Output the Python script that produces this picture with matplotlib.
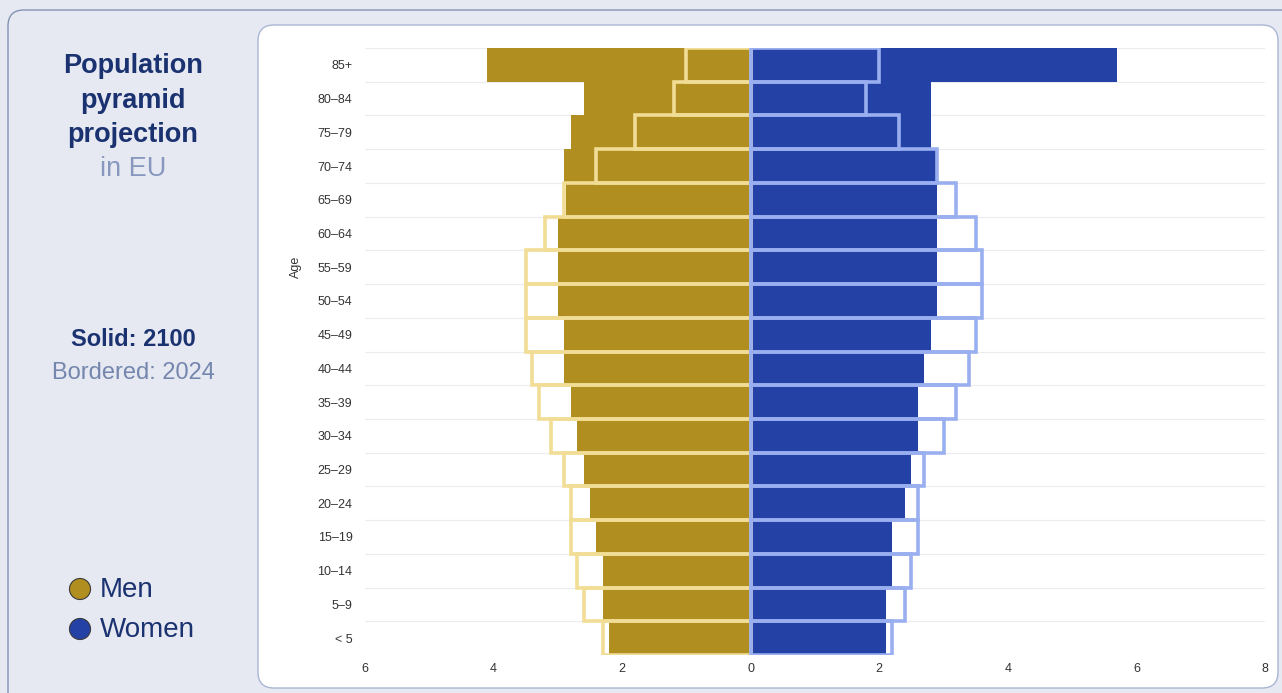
"""
Population pyramid: EU projection for 2100 (solid) against 2024 (bordered).
"""

import os
os.environ['MPLBACKEND'] = 'Agg'

import numpy as np
import matplotlib.pyplot as plt
from matplotlib.patches import FancyBboxPatch

# Age groups, youngest first (drawn bottom to top)
age_groups = ["< 5", "5–9", "10–14", "15–19", "20–24", "25–29", "30–34",
              "35–39", "40–44", "45–49", "50–54", "55–59", "60–64",
              "65–69", "70–74", "75–79", "80–84", "85+"]

# Share of total population (%), same order as age_groups
men_2100 = [2.2, 2.3, 2.3, 2.4, 2.5, 2.6, 2.7, 2.8, 2.9, 2.9, 3.0, 3.0, 3.0,
            2.88, 2.9, 2.8, 2.6, 4.1]
men_2024 = [2.3, 2.6, 2.7, 2.8, 2.8, 2.9, 3.1, 3.3, 3.4, 3.5, 3.5, 3.5, 3.2,
            2.9, 2.4, 1.8, 1.2, 1.0]
women_2100 = [2.1, 2.1, 2.2, 2.2, 2.4, 2.5, 2.6, 2.6, 2.7, 2.8, 2.9, 2.9, 2.9,
              2.9, 2.88, 2.8, 2.8, 5.7]
women_2024 = [2.2, 2.4, 2.5, 2.6, 2.6, 2.7, 3.0, 3.2, 3.4, 3.5, 3.6, 3.6, 3.5,
              3.2, 2.9, 2.3, 1.8, 2.0]

x_ticks = [-6, -4, -2, 0, 2, 4, 6, 8]

MEN = "#b08f20"
MEN_EDGE = "#f1dd95"
WOMEN = "#2442a6"
WOMEN_EDGE = "#9aaff0"
NAVY = "#1b3270"
MUTED = "#7486ad"
W, H = 1282, 693

fig = plt.figure(figsize=(W / 100, H / 100), dpi=100)
fig.patch.set_facecolor("#e6e9f1")

# Background panels, drawn in pixel units
bg = fig.add_axes([0, 0, 1, 1])
bg.set_xlim(0, W)
bg.set_ylim(H, 0)
bg.axis("off")
bg.add_patch(FancyBboxPatch((8, 10), W + 40, H + 40,
                            boxstyle="round,pad=0,rounding_size=16",
                            facecolor="#e6e9f2", edgecolor="#8493b5", linewidth=1.0))
bg.add_patch(FancyBboxPatch((258, 25), 1020, 663,
                            boxstyle="round,pad=0,rounding_size=16",
                            facecolor="white", edgecolor="#a9b6d3", linewidth=1.0))

# Side panel text
title_font = dict(family="Liberation Sans", ha="center", va="center")
for yy, line in zip([66, 101, 135], ["Population", "pyramid", "projection"]):
    bg.text(133, yy, line, fontsize=19.5, fontweight="bold", color=NAVY, **title_font)
bg.text(133, 169, "in EU", fontsize=19.5, color="#8797bd", **title_font)
bg.text(133, 339, "Solid: 2100", fontsize=17, fontweight="bold", color=NAVY, **title_font)
bg.text(133, 373, "Bordered: 2024", fontsize=17, color=MUTED, **title_font)

bg.scatter([80, 80], [589, 629], s=230, c=[MEN, WOMEN], edgecolors="#3a3a3a",
           linewidths=0.8, zorder=3)
bg.text(100, 590, "Men", fontsize=20, color=NAVY, family="Liberation Sans", va="center")
bg.text(100, 630, "Women", fontsize=20, color=NAVY, family="Liberation Sans", va="center")

# Pyramid
ax = fig.add_axes([365 / W, 1 - 655 / H, 900 / W, 607 / H])
ax.set_facecolor("none")
y = np.arange(len(age_groups))

ax.hlines(np.arange(len(age_groups) + 1) - 0.5, -6, 8, color="#ececf0",
          linewidth=0.8, zorder=0)

ax.barh(y, -np.array(men_2100), height=1.0, color=MEN, linewidth=0, zorder=2)
ax.barh(y, women_2100, height=1.0, color=WOMEN, linewidth=0, zorder=2)
ax.barh(y, -np.array(men_2024), height=1.0, fill=False, edgecolor=MEN_EDGE,
        linewidth=2.6, zorder=3)
ax.barh(y, women_2024, height=1.0, fill=False, edgecolor=WOMEN_EDGE,
        linewidth=2.6, zorder=3)

ax.set_xlim(-6, 8)
ax.set_ylim(-0.5, len(age_groups) - 0.5)
ax.set_yticks(y)
ax.set_yticklabels(age_groups)
ax.set_xticks(x_ticks)
ax.set_xticklabels([str(abs(t)) for t in x_ticks])
ax.tick_params(length=0, labelsize=9, labelcolor="#333333")
ax.tick_params(axis="y", pad=9)
ax.tick_params(axis="x", pad=6)
for lab in ax.get_xticklabels() + ax.get_yticklabels():
    lab.set_family("Liberation Sans")
for s in ax.spines.values():
    s.set_visible(False)

bg.text(296, 267, "Age", rotation=90, fontsize=9, color="#333333",
        family="Liberation Sans", ha="center", va="center")

fig.savefig("out.png", dpi=100, facecolor=fig.get_facecolor())
